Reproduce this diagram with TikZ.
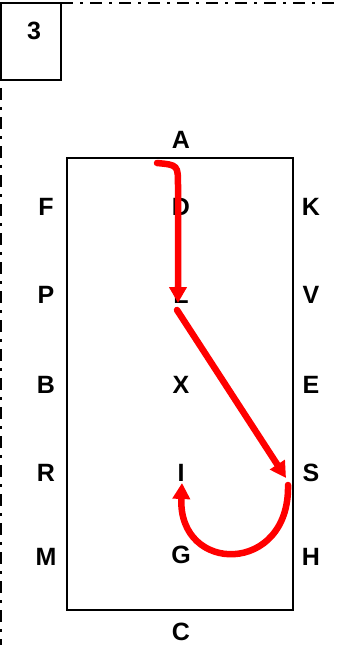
\documentclass[tikz,border=0pt]{standalone}
\usepackage{fontspec}
\setmainfont{Liberation Sans}
\usetikzlibrary{arrows.meta}
\begin{document}
\begin{tikzpicture}[x=1pt,y=-1pt,
  lbl/.style={font=\bfseries\fontsize{25}{29}\selectfont, inner sep=0pt},
  route/.style={red, line width=6.5pt, line cap=round, -{Triangle[length=16pt,width=17pt]}},
  frame/.style={line width=2.6pt},
  dashdot/.style={line width=2.4pt, dash pattern=on 12pt off 7pt on 3pt off 7pt}]
\useasboundingbox (0,0) rectangle (338,645);
% page border
\draw[dashdot] (61,3) -- (338,3);
\draw[dashdot] (1,88) -- (1,645);
% number box
\node[frame, draw, minimum width=60pt, minimum height=77pt, inner sep=0pt] (numbox) at (31,41.5) {};
\node[lbl] (num) at (34,31) {3};
% arena
\node[frame, draw, minimum width=226pt, minimum height=452pt, inner sep=0pt] (arena) at (180,384) {};
% letters
\node[lbl] (A) at (181,140) {A};
\node[lbl] (C) at (181,632) {C};
\node[lbl] (F) at (46,207) {F};
\node[lbl] (P) at (46,295) {P};
\node[lbl] (B) at (46,385) {B};
\node[lbl] (R) at (46,473) {R};
\node[lbl] (M) at (46,557) {M};
\node[lbl] (K) at (311,207) {K};
\node[lbl] (V) at (311,295) {V};
\node[lbl] (E) at (311,385) {E};
\node[lbl] (S) at (311,473) {S};
\node[lbl] (H) at (311,557) {H};
\node[lbl] (D) at (181,207) {D};
\node[lbl] (L) at (181,295) {L};
\node[lbl] (X) at (181,385) {X};
\node[lbl] (I) at (181,473) {I};
\node[lbl] (G) at (181,555) {G};
% route
\coordinate (r0) at (157,163);
\coordinate (r1) at (178,303);
\coordinate (r2) at (177,310);
\coordinate (r3) at (286,478);
\coordinate (r4) at (288,485);
\coordinate (r5) at (182,483);
\draw[route] (r0) .. controls (178,165) .. (178,186) -- (r1);
\draw[route] (r2) -- (r3);
\draw[route] (r4) .. controls (290,575) and (178,575) .. (r5);
\end{tikzpicture}
\end{document}
